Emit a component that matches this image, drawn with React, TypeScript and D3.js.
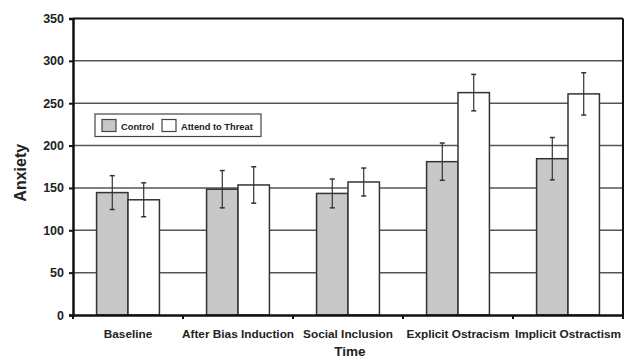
import React, { useEffect, useRef } from 'react';
import * as d3 from 'd3';

const categories = ['Baseline', 'After Bias Induction', 'Social Inclusion', 'Explicit Ostracism', 'Implicit Ostractism'];
const series = ['Control', 'Attend to Threat'];
const controlValues = [144.5, 148.5, 143.5, 181, 184.5];
const controlErrors = [20, 22, 17, 22, 25];
const threatValues = [136, 153.5, 157, 262.5, 261];
const threatErrors = [20, 21.5, 16.5, 21.5, 25];
const yTicks = [0, 50, 100, 150, 200, 250, 300, 350];

const App = () => {
  const ref = useRef<SVGSVGElement>(null);

  useEffect(() => {
    const W = 629, H = 362;
    const margin = { top: 18.5, right: 6, bottom: 47, left: 73 };
    const width = W - margin.left - margin.right;
    const height = H - margin.top - margin.bottom;
    const font = 'Liberation Sans, Arial, sans-serif';

    const svg = d3.select(ref.current);
    svg.selectAll('*').remove();
    svg.attr('width', W).attr('height', H).style('font-family', font);

    const g = svg.append('g').attr('transform', `translate(${margin.left},${margin.top})`);

    const x = d3.scaleBand().domain(categories).range([0, width]).paddingInner(0).paddingOuter(0);
    const xs = d3.scaleBand().domain(series).range([0, x.bandwidth()]).paddingInner(0).paddingOuter(0.75);
    const y = d3.scaleLinear().domain([0, 350]).range([height, 0]);

    // gridlines
    g.selectAll('.grid').data(yTicks.slice(1, -1)).enter().append('line')
      .attr('x1', 0).attr('x2', width)
      .attr('y1', d => y(d)).attr('y2', d => y(d))
      .attr('stroke', '#555').attr('stroke-width', 1.5);

    const rows = categories.map((c, i) => ([
      { cat: c, s: series[0], v: controlValues[i], e: controlErrors[i], fill: '#c8c8c8' },
      { cat: c, s: series[1], v: threatValues[i], e: threatErrors[i], fill: '#ffffff' },
    ])).flat();

    g.selectAll('.bar').data(rows).enter().append('rect')
      .attr('x', d => x(d.cat)! + xs(d.s)!)
      .attr('width', xs.bandwidth())
      .attr('y', d => y(d.v))
      .attr('height', d => height - y(d.v))
      .attr('fill', d => d.fill)
      .attr('stroke', '#333').attr('stroke-width', 1.5);

    const err = g.selectAll('.err').data(rows).enter().append('g')
      .attr('transform', d => `translate(${x(d.cat)! + xs(d.s)! + xs.bandwidth() / 2},0)`);
    err.append('line')
      .attr('y1', d => y(d.v - d.e)).attr('y2', d => y(d.v + d.e))
      .attr('stroke', '#333').attr('stroke-width', 1.2);
    err.append('line').attr('x1', -2.5).attr('x2', 2.5)
      .attr('y1', d => y(d.v + d.e)).attr('y2', d => y(d.v + d.e))
      .attr('stroke', '#333').attr('stroke-width', 1.5);
    err.append('line').attr('x1', -2.5).attr('x2', 2.5)
      .attr('y1', d => y(d.v - d.e)).attr('y2', d => y(d.v - d.e))
      .attr('stroke', '#333').attr('stroke-width', 1.5);

    // frame
    g.append('line').attr('x1', 0).attr('x2', width).attr('y1', 0).attr('y2', 0)
      .attr('stroke', '#111').attr('stroke-width', 2);
    g.append('line').attr('x1', width).attr('x2', width).attr('y1', 0).attr('y2', height)
      .attr('stroke', '#111').attr('stroke-width', 2);

    // y axis
    const yAxis = g.append('g').call(d3.axisLeft(y).tickValues(yTicks).tickSize(4).tickPadding(5));
    yAxis.select('.domain').attr('stroke', '#111').attr('stroke-width', 2.5);
    yAxis.selectAll('.tick line').attr('stroke', '#111').attr('stroke-width', 2);
    yAxis.selectAll('.tick text').attr('font-size', 12.5).attr('font-weight', 'bold')
      .attr('fill', '#222').attr('font-family', font);

    // x axis
    const xAxis = g.append('g').attr('transform', `translate(0,${height})`)
      .call(d3.axisBottom(x).tickSize(0).tickPadding(15));
    xAxis.select('.domain').attr('stroke', '#111').attr('stroke-width', 2.5);
    xAxis.selectAll('.tick text').attr('font-size', 11.8).attr('font-weight', 'bold')
      .attr('fill', '#222').attr('font-family', font);
    g.selectAll('.xtick').data(d3.range(categories.length + 1)).enter().append('line')
      .attr('x1', i => i * x.step()).attr('x2', i => i * x.step())
      .attr('y1', height).attr('y2', height + 4)
      .attr('stroke', '#111').attr('stroke-width', 2);

    // axis titles
    svg.append('text').attr('x', margin.left + width / 2 + 2).attr('y', 356)
      .attr('text-anchor', 'middle').attr('font-size', 13.5).attr('font-weight', 'bold').attr('fill', '#222')
      .text('Time');
    svg.append('text').attr('transform', `translate(26,${margin.top + height / 2 + 6}) rotate(-90)`)
      .attr('text-anchor', 'middle').attr('font-size', 16).attr('font-weight', 'bold').attr('fill', '#222')
      .text('Anxiety');

    // legend
    const leg = svg.append('g').attr('transform', 'translate(95,114)');
    leg.append('rect').attr('width', 166).attr('height', 22.5)
      .attr('fill', '#fff').attr('stroke', '#444').attr('stroke-width', 1.2);
    const items = [
      { label: series[0], fill: '#c8c8c8', x: 7 },
      { label: series[1], fill: '#ffffff', x: 67 },
    ];
    items.forEach(it => {
      leg.append('rect').attr('x', it.x).attr('y', 5.5).attr('width', 14).attr('height', 12)
        .attr('fill', it.fill).attr('stroke', '#444').attr('stroke-width', 1.2);
      leg.append('text').attr('x', it.x + 19).attr('y', 15.5)
        .attr('font-size', 9.3).attr('font-weight', 'bold').attr('fill', '#222')
        .text(it.label);
    });
  }, []);

  return <svg ref={ref} style={{ position: 'absolute', left: 0, top: 0, background: '#fff' }} />;
};

export default App;
